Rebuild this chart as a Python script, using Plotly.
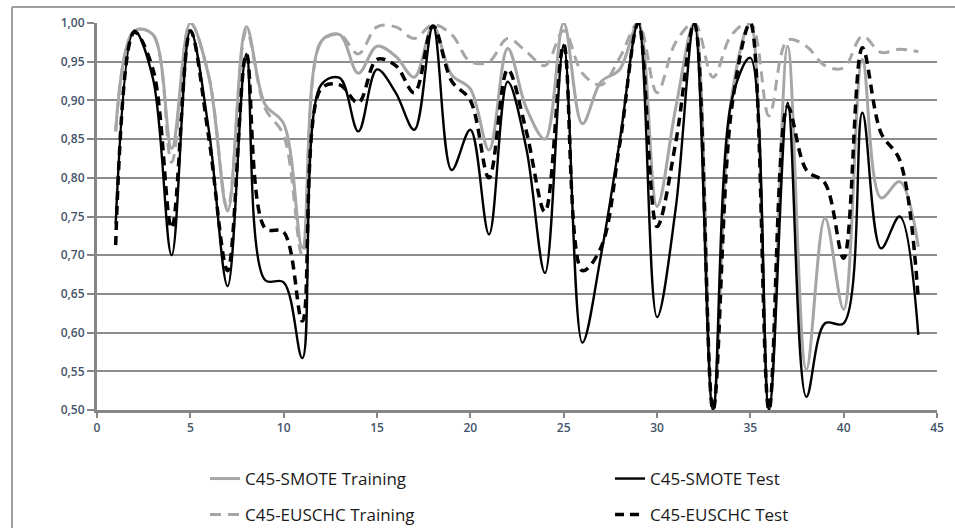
import plotly.graph_objects as go

x_vals = list(range(1, 45))

smote_training = [0.86, 0.99, 0.985, 0.838, 1.0, 0.93, 0.757, 0.995, 0.895, 0.87,
                  0.71, 0.976, 0.985, 0.935, 0.97, 0.957, 0.93, 0.996, 0.933, 0.915,
                  0.836, 0.967, 0.89, 0.85, 1.0, 0.87, 0.924, 0.94, 1.0, 0.763,
                  0.89, 1.0, 0.50, 0.905, 1.0, 0.50, 0.97, 0.552, 0.748, 0.63,
                  0.953, 0.774, 0.795, 0.711]

smote_test = [0.74, 0.99, 0.928, 0.70, 0.99, 0.86, 0.66, 0.96, 0.668, 0.665,
              0.567, 0.92, 0.929, 0.86, 0.94, 0.91, 0.862, 0.996, 0.81, 0.862,
              0.727, 0.924, 0.838, 0.677, 0.972, 0.587, 0.70, 0.847, 1.0, 0.62,
              0.76, 1.0, 0.50, 0.90, 0.955, 0.50, 0.897, 0.517, 0.612, 0.612,
              0.884, 0.709, 0.75, 0.597]

euschc_training = [0.86, 0.99, 0.985, 0.82, 1.0, 0.93, 0.76, 0.99, 0.89, 0.855,
                   0.70, 0.975, 0.985, 0.96, 0.995, 0.995, 0.98, 0.998, 0.985, 0.95,
                   0.95, 0.98, 0.963, 0.945, 0.99, 0.935, 0.92, 0.955, 1.0, 0.91,
                   0.975, 1.0, 0.93, 0.985, 1.0, 0.88, 0.978, 0.97, 0.945, 0.942,
                   0.983, 0.962, 0.966, 0.963]

euschc_test = [0.713, 0.988, 0.94, 0.735, 0.99, 0.85, 0.68, 0.96, 0.735, 0.73,
               0.615, 0.915, 0.92, 0.897, 0.953, 0.945, 0.91, 0.996, 0.925, 0.90,
               0.80, 0.94, 0.86, 0.756, 0.972, 0.68, 0.71, 0.843, 1.0, 0.737,
               0.845, 1.0, 0.50, 0.89, 1.0, 0.50, 0.892, 0.81, 0.793, 0.696,
               0.968, 0.858, 0.823, 0.642]

x_ticks = [0, 5, 10, 15, 20, 25, 30, 35, 40, 45]
y_ticks = [0.50, 0.55, 0.60, 0.65, 0.70, 0.75, 0.80, 0.85, 0.90, 0.95, 1.00]

GRAY = "#a6a6a6"
BLACK = "#000000"

fig = go.Figure()
fig.add_trace(go.Scatter(x=x_vals, y=smote_training, mode="lines", name="C45-SMOTE Training",
                         line=dict(color=GRAY, width=3, shape="spline"), legend="legend"))
fig.add_trace(go.Scatter(x=x_vals, y=euschc_training, mode="lines", name="C45-EUSCHC Training",
                         line=dict(color=GRAY, width=3, shape="spline", dash="11px,7px"), legend="legend2"))
fig.add_trace(go.Scatter(x=x_vals, y=smote_test, mode="lines", name="C45-SMOTE Test",
                         line=dict(color=BLACK, width=2.4, shape="spline"), legend="legend"))
fig.add_trace(go.Scatter(x=x_vals, y=euschc_test, mode="lines", name="C45-EUSCHC Test",
                         line=dict(color=BLACK, width=3.5, shape="spline", dash="9px,6px"), legend="legend2"))

W, H = 955, 528
L, R, T, B = 97, 18, 23, 118
pw, ph = W - L - R, H - T - B

def px_to_paper_x(px):
    return (px - L) / pw

def px_to_paper_y(py):
    return (H - B - py) / ph

tick_font = dict(family="Open Sans", size=12, color="#44546A", weight=600)
legend_font = dict(family="Open Sans", size=17, color="#1a1a1a")

legend_common = dict(orientation="h", xanchor="left", yanchor="middle", font=legend_font,
                     entrywidth=360, entrywidthmode="pixels", bgcolor="rgba(0,0,0,0)",
                     traceorder="normal", borderwidth=0)

fig.update_layout(
    width=W, height=H,
    margin=dict(l=L, r=R, t=T, b=B, pad=0, autoexpand=False),
    paper_bgcolor="white", plot_bgcolor="white",
    separators=", ",
    showlegend=True,
    legend=dict(x=px_to_paper_x(205), y=px_to_paper_y(479), **legend_common),
    legend2=dict(x=px_to_paper_x(205), y=px_to_paper_y(515), **legend_common),
    xaxis=dict(range=[0, 45], tickvals=x_ticks, ticks="outside", ticklen=5, tickwidth=2,
               tickcolor="#868686", showline=True, linecolor="#868686", linewidth=3,
               showgrid=False, zeroline=False, tickfont=tick_font, fixedrange=True),
    yaxis=dict(range=[0.5, 1.0], tickvals=y_ticks, tickformat=".2f", ticks="outside",
               ticklen=7, tickwidth=2, tickcolor="#868686", showline=True,
               linecolor="#868686", linewidth=3, showgrid=True, gridcolor="#8c8c8c",
               gridwidth=2, zeroline=False, tickfont=tick_font, fixedrange=True,
               ticksuffix="\u2002"),
    shapes=[
        dict(type="line", xref="paper", yref="paper",
             x0=px_to_paper_x(12), x1=px_to_paper_x(12),
             y0=px_to_paper_y(7), y1=px_to_paper_y(540),
             line=dict(color="#a0a0a0", width=2)),
        dict(type="line", xref="paper", yref="paper",
             x0=px_to_paper_x(12), x1=px_to_paper_x(960),
             y0=px_to_paper_y(7), y1=px_to_paper_y(7),
             line=dict(color="#a0a0a0", width=2)),
    ],
)

fig.write_html("out.html")
